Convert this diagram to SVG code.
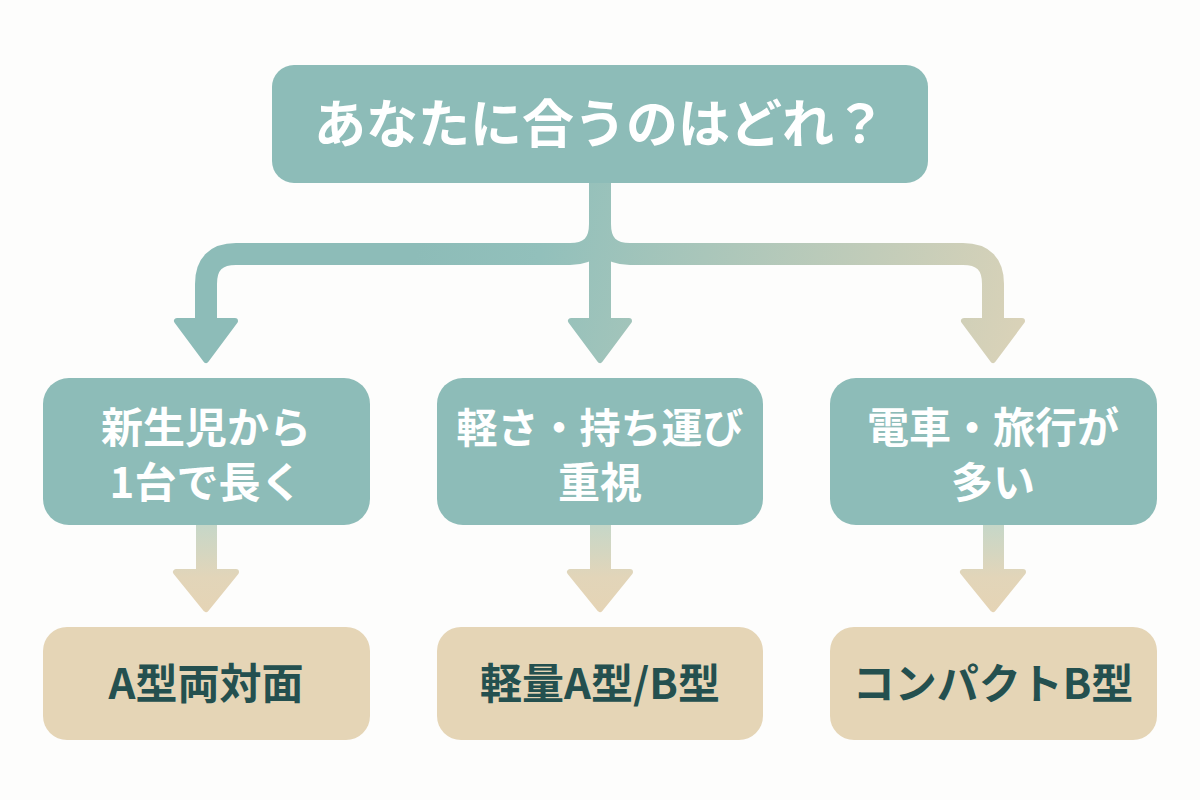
<svg xmlns="http://www.w3.org/2000/svg" width="1200" height="800" viewBox="0 0 1200 800">
<defs>
<style>
.q{fill:#8dbcb8}
.a{fill:#e5d5b6}
.wt{fill:#ffffff;font-family:"Noto Sans CJK JP","Noto Sans",sans-serif;font-weight:700;text-anchor:middle}
.dt{fill:#24504f;font-family:"Noto Sans CJK JP","Noto Sans",sans-serif;font-weight:700;text-anchor:middle;font-size:42px}
.br{fill:none;stroke:url(#gTop);stroke-width:22}
</style>
<linearGradient id="gTop" gradientUnits="userSpaceOnUse" x1="430" y1="200" x2="1010" y2="360">
<stop offset="0" stop-color="#8dbcb8"/>
<stop offset="0.2" stop-color="#92c0bb"/>
<stop offset="1" stop-color="#d9d2b8"/>
</linearGradient>
<linearGradient id="gDown" gradientUnits="userSpaceOnUse" x1="0" y1="525" x2="0" y2="612">
<stop offset="0" stop-color="#c6d7c8"/>
<stop offset="0.6" stop-color="#e2d5b9"/>
<stop offset="1" stop-color="#e5d4b5"/>
</linearGradient>
</defs>
<rect width="1200" height="800" fill="#fdfdfc"/>
<g id="connectors">
<path class="br" d="M600,183 V224 Q600,254 570,254 H236 Q206,254 206,284 V322"/>
<path class="br" d="M600,183 V224 Q600,254 630,254 H963 Q993,254 993,284 V322"/>
<path class="br" d="M600,183 V322"/>
<path fill="url(#gTop)" stroke="url(#gTop)" stroke-width="6" stroke-linejoin="round" d="M177,321 H235 L206,360 Z"/>
<path fill="url(#gTop)" stroke="url(#gTop)" stroke-width="6" stroke-linejoin="round" d="M571,321 H629 L600,360 Z"/>
<path fill="url(#gTop)" stroke="url(#gTop)" stroke-width="6" stroke-linejoin="round" d="M964,321 H1022 L993,360 Z"/>
<g fill="url(#gDown)" stroke="url(#gDown)" stroke-linejoin="round">
<rect x="196" y="524" width="21" height="48" stroke="none"/>
<path stroke-width="6" d="M176,572 H236 L206,609 Z"/>
<rect x="590" y="524" width="21" height="48" stroke="none"/>
<path stroke-width="6" d="M570,572 H630 L600,609 Z"/>
<rect x="983" y="524" width="21" height="48" stroke="none"/>
<path stroke-width="6" d="M963,572 H1023 L993,609 Z"/>
</g>
</g>
<g id="top">
<rect class="q" x="272" y="65" width="656" height="118" rx="22"/>
<text class="wt" x="600" y="143" font-size="52">あなたに合うのはどれ？</text>
</g>
<g id="q1">
<rect class="q" x="43" y="378" width="327" height="147" rx="26"/>
<text class="wt" x="206" y="443" font-size="42">新生児から</text>
<text class="wt" x="206" y="498" font-size="42">1台で長く</text>
</g>
<g id="q2">
<rect class="q" x="437" y="378" width="326" height="147" rx="26"/>
<text class="wt" x="600" y="443" font-size="41">軽さ・持ち運び</text>
<text class="wt" x="600" y="498" font-size="42">重視</text>
</g>
<g id="q3">
<rect class="q" x="830" y="378" width="327" height="147" rx="26"/>
<text class="wt" x="993" y="443" font-size="42">電車・旅行が</text>
<text class="wt" x="993" y="498" font-size="42">多い</text>
</g>
<g id="r1">
<rect class="a" x="43" y="627" width="327" height="113" rx="24"/>
<text class="dt" x="206" y="699">A型両対面</text>
</g>
<g id="r2">
<rect class="a" x="437" y="627" width="326" height="113" rx="24"/>
<text class="dt" x="600" y="699">軽量A型/B型</text>
</g>
<g id="r3">
<rect class="a" x="830" y="627" width="327" height="113" rx="24"/>
<text class="dt" x="993" y="699">コンパクトB型</text>
</g>
</svg>
